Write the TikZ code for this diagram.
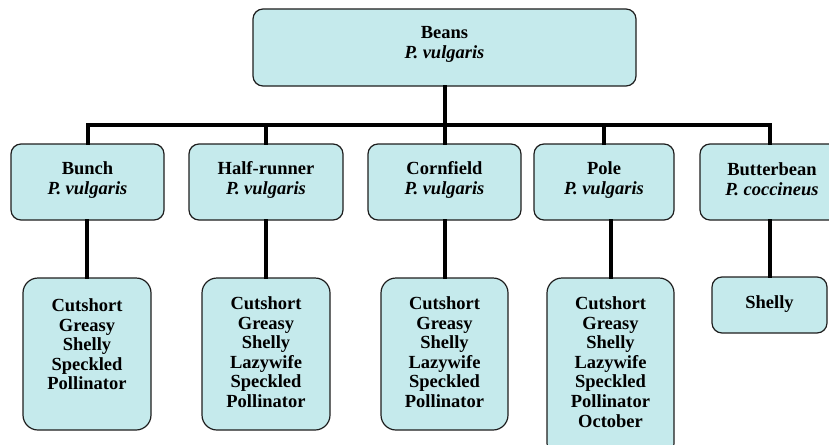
\documentclass[tikz,border=0pt]{standalone}
\usepackage{fontspec}
\setmainfont{Liberation Serif}
\usetikzlibrary{calc}
\definecolor{boxfill}{RGB}{197,234,236}
\definecolor{boxline}{RGB}{30,30,30}
\begin{document}
\begin{tikzpicture}[x=1pt,y=-1pt,
  box/.style={draw=boxline,fill=boxfill,line width=1.2pt,rounded corners=10pt,inner sep=0pt},
  listbox/.style={draw=boxline,fill=boxfill,line width=1.2pt,rounded corners=15pt,inner sep=0pt},
  lbl/.style={inner sep=0pt,align=center,font=\fontsize{18.5}{20}\selectfont\bfseries},
  listtext/.style={anchor=north,inner sep=0pt,align=center,font=\fontsize{18.5}{19.6}\selectfont\bfseries},
  conn/.style={line width=4pt,black,line join=miter,line cap=rect}]
\useasboundingbox (0,0) rectangle (829,444);
\clip (0,0) rectangle (829,444);
% top
\node[box,minimum width=383pt,minimum height=77pt] (top) at (444.5,47.5) {};
\node[lbl] (toptxt) at (444.5,44) {Beans\\\textit{P. vulgaris}};
% second level
\node[box,minimum width=153pt,minimum height=76pt] (b1) at (87.5,182) {};
\node[box,minimum width=154pt,minimum height=76pt] (b2) at (266,182) {};
\node[box,minimum width=153pt,minimum height=76pt] (b3) at (444.5,182) {};
\node[box,minimum width=140pt,minimum height=76pt] (b4) at (604,182) {};
\node[box,minimum width=140pt,minimum height=76pt] (b5) at (770,182) {};
\node[lbl] (t1) at (87.5,180) {Bunch\\\textit{P. vulgaris}};
\node[lbl] (t2) at (266,180) {Half-runner\\\textit{P. vulgaris}};
\node[lbl] (t3) at (444.5,180) {Cornfield\\\textit{P. vulgaris}};
\node[lbl] (t4) at (604,180) {Pole\\\textit{P. vulgaris}};
\node[lbl] (t5) at (772,179) {Butterbean\\\textit{P. coccineus}};
% third level
\node[listbox,minimum width=128pt,minimum height=152pt] (l1) at (87,354) {};
\node[listbox,minimum width=128pt,minimum height=152pt] (l2) at (266,354) {};
\node[listbox,minimum width=127pt,minimum height=152pt] (l3) at (444.5,354) {};
\node[listbox,minimum width=127pt,minimum height=180pt] (l4) at (610.5,368) {};
\node[listbox,minimum width=115pt,minimum height=56pt,rounded corners=10pt] (l5) at (769.5,305) {};
\node[listtext] (lt1) at ($(l1.north)+(0,21)$) {Cutshort\\Greasy\\Shelly\\Speckled\\Pollinator};
\node[listtext] (lt2) at ($(l2.north)+(0,19)$) {Cutshort\\Greasy\\Shelly\\Lazywife\\Speckled\\Pollinator};
\node[listtext] (lt3) at ($(l3.north)+(0,19)$) {Cutshort\\Greasy\\Shelly\\Lazywife\\Speckled\\Pollinator};
\node[listtext] (lt4) at ($(l4.north)+(0,19)$) {Cutshort\\Greasy\\Shelly\\Lazywife\\Speckled\\Pollinator\\October};
\node[listtext] (lt5) at ($(l5.north)+(0,19)$) {Shelly};
% connectors
\coordinate (bar) at (0,125);
\draw[conn] (top.south) -- (top.south |- bar);
\draw[conn] (b1.north) -- (b1.north |- bar) -- (b5.north |- bar) -- (b5.north);
\draw[conn] (b2.north) -- (b2.north |- bar);
\draw[conn] (b3.north) -- (b3.north |- bar);
\draw[conn] (b4.north) -- (b4.north |- bar);
\draw[conn] (l1.north) -- (l1.north |- b1.south);
\draw[conn] (l2.north) -- (l2.north |- b2.south);
\draw[conn] (l3.north) -- (l3.north |- b3.south);
\draw[conn] (l4.north) -- (l4.north |- b4.south);
\draw[conn] (l5.north) -- (l5.north |- b5.south);
\end{tikzpicture}
\end{document}
